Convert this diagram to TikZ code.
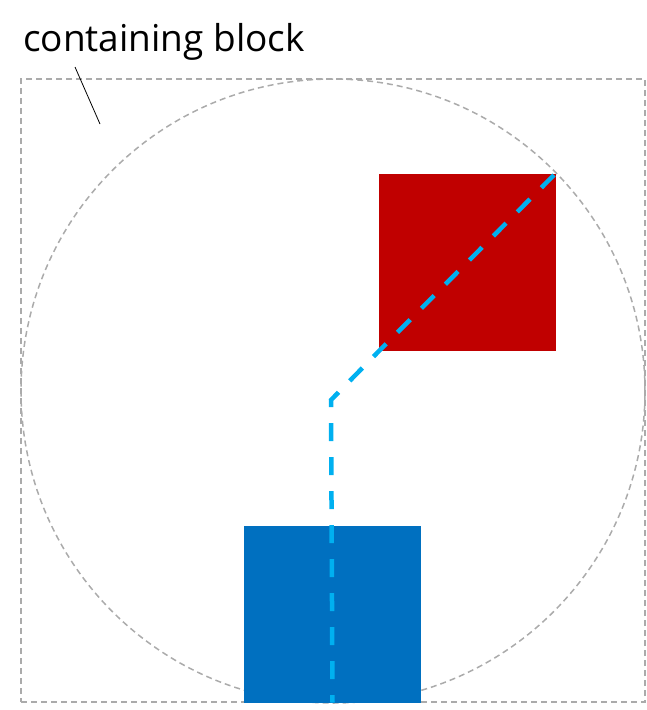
\documentclass[tikz,border=0pt]{standalone}
\usepackage{fontspec}
\setmainfont{Open Sans}
\definecolor{redbox}{HTML}{C00000}
\definecolor{bluebox}{HTML}{0070C0}
\definecolor{cyanline}{HTML}{00B0F0}
\definecolor{grayline}{HTML}{ABABAB}
\begin{document}
\begin{tikzpicture}[x=1pt,y=-1pt,
  guide/.style={draw=grayline,line width=1.5pt,dash pattern=on 6pt off 4pt},
  square/.style={minimum width=177pt,minimum height=177pt,inner sep=0pt,outer sep=0pt},
  pathline/.style={draw=cyanline,line width=4.5pt,dash pattern=on 18pt off 16pt}]
\useasboundingbox (0,0) rectangle (646,710);
\node[guide,minimum width=624pt,minimum height=623pt,inner sep=0pt,outer sep=0pt] (cb) at (333,390.5) {};
\node[guide,circle,minimum size=624pt,inner sep=0pt,outer sep=0pt] (circ) at (333,391) {};
\node[square,fill=redbox] (red) at (467.5,262.5) {};
\node[square,fill=bluebox] (blue) at (332.5,614) {};
\node[anchor=base west,inner sep=0pt,font=\fontsize{37}{44}\selectfont] (lbl) at (23,51) {containing block};
\coordinate (lt) at (75,67);
\coordinate (lb) at (100,124);
\draw[black,line width=0.8pt] (lt) -- (lb);
\coordinate (bend) at (331,400);
\coordinate (start) at (554,175);
\draw[pathline] (start) -- (red.south west) -- (bend) -- (blue.south);
\end{tikzpicture}
\end{document}
